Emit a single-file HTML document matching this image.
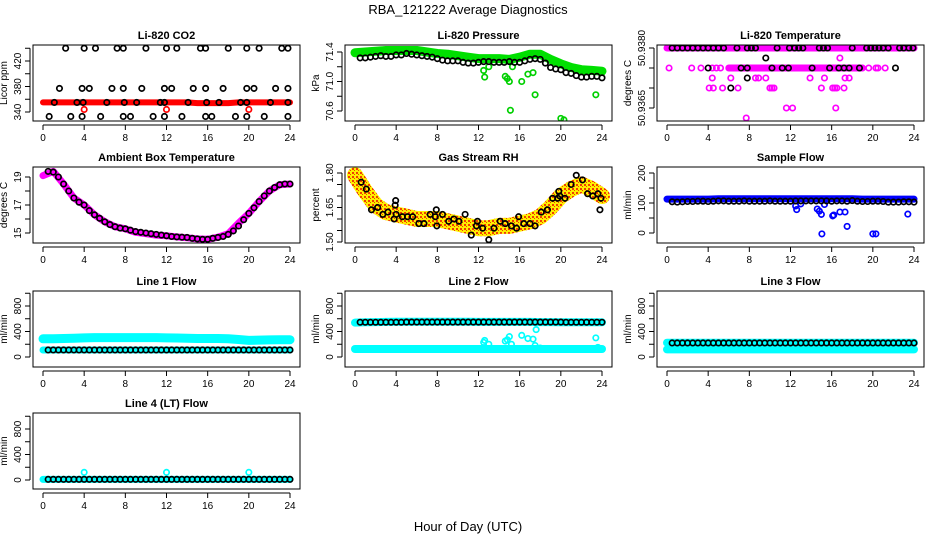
<!DOCTYPE html>
<html><head><meta charset="utf-8"><title>RBA_121222 Average Diagnostics</title>
<style>
html,body{margin:0;padding:0;background:#fff;}
svg{display:block;font-family:"Liberation Sans",sans-serif;}
</style></head>
<body>
<svg id="chart" width="936" height="540" viewBox="0 0 936 540" xmlns="http://www.w3.org/2000/svg">
<defs>
<pattern id="chk" width="4" height="4" patternUnits="userSpaceOnUse">
<rect width="4" height="4" fill="#ffee00"/><rect width="2" height="2" fill="#f04000"/><rect x="2" y="2" width="1" height="1" fill="#f04000"/>
</pattern>
</defs>
<text x="468" y="14" text-anchor="middle" font-size="13">RBA_121222  Average Diagnostics</text>
<text x="468" y="531" text-anchor="middle" font-size="13">Hour of Day (UTC)</text>
<g id="plots"></g>
</svg>
<script>
// ---------- data ----------
const hourTicks = [0,4,8,12,16,20,24];
const hourly = [0,1,2,3,4,5,6,7,8,9,10,11,12,13,14,15,16,17,18,19,20,21,22,23,24];
const halfHours = [0.5,1,1.5,2,2.5,3,3.5,4,4.5,5,5.5,6,6.5,7,7.5,8,8.5,9,9.5,10,10.5,11,11.5,12,12.5,13,13.5,14,14.5,15,15.5,16,16.5,17,17.5,18,18.5,19,19.5,20,20.5,21,21.5,22,22.5,23,23.5,24];

// CO2
const co2BlackX = [2.2,4,5.1,7.2,7.8,10,12,13,15.3,15.8,18,19.8,21,23.2,23.8, 1.6,3.8,4.5,6.7,7.8,9.6,11.8,12.5,14.6,15.8,17.5,19.8,20.5,22.6,23.8, 1.1,3.3,3.9,6.2,7.9,9.1,11.4,11.8,14.1,15.9,17.1,19.2,19.8,22.1,23.8, 0.6,2.7,3.8,5.6,7.8,8.5,10.7,11.8,13.5,15.8,16.4,18.7,19.8,21.5,23.8];
const co2BlackY = [440,440,440,440,440,440,440,440,440,440,440,440,440,440,440, 377,377,377,377,377,377,377,377,377,377,377,377,377,377,377, 355,355,355,355,355,355,355,355,355,355,355,355,355,355,355, 333,333,333,333,333,333,333,333,333,333,333,333,333,333,333];
const co2Red = [355,355,355,355,355,355,355,355,355,355,355,355,355,355,355,354,354,354,354,355,355,355,355,355,355];
const co2RedOutX = [4,12,20];
const co2RedOutY = [344,344,344];

// Pressure
const presGreen = [71.39,71.40,71.41,71.42,71.42,71.42,71.42,71.40,71.38,71.37,71.35,71.33,71.31,71.31,71.31,71.30,71.33,71.37,71.37,71.30,71.24,71.19,71.16,71.15,71.14];
const presBlack = [71.32,71.32,71.33,71.34,71.35,71.34,71.34,71.36,71.36,71.38,71.37,71.36,71.35,71.34,71.33,71.31,71.29,71.28,71.28,71.28,71.26,71.25,71.25,71.26,71.27,71.27,71.26,71.26,71.26,71.27,71.26,71.26,71.28,71.30,71.31,71.30,71.25,71.19,71.17,71.16,71.12,71.11,71.08,71.06,71.06,71.07,71.07,71.05];
const presOutX = [12.5,12.6,13,14.6,14.8,15,15.1,15.3,16.2,16.8,17.3,17.5,20,20.3,23.4];
const presOutY = [71.15,71.06,71.2,71.07,71.04,71.0,70.61,71.2,71.0,71.1,71.12,70.82,70.5,70.48,70.82];

// Li-820 Temperature
const tempBandStart = [0,6];
const tempBandEnd = [24,19];
const tempBandVal = [50.9380,50.9375];
const tempMagX = [0.2,2.4,3.3,4.4,4.8,5.2,19.6,20.3,20.5,21.2, 4.4,6.2,8.6,8.9,9.6,13.9,15.3,17.3,17.7, 4.1,4.5,5.4,6.9,10,10.2,10.4,15,16.1,16.3,16.5,17.2, 11.6,12.2,16.4, 7.7, 16.8];
const tempMagY = [50.9375,50.9375,50.9375,50.9375,50.9375,50.9375,50.9375,50.9375,50.9375,50.9375, 50.93725,50.93725,50.93725,50.93725,50.93725,50.93725,50.93725,50.93725,50.93725, 50.9370,50.9370,50.9370,50.9370,50.9370,50.9370,50.9370,50.9370,50.9370,50.9370,50.9370,50.9370, 50.9365,50.9365,50.9365, 50.93625, 50.93775];
const tempBlackX = [0.5,1,1.5,2,2.5,3,3.5,4,4.5,5,5.5,6.8,7.8,8.2,8.6,10.7,11.9,12.4,12.8,13.2,14.8,15.2,15.6,18,19.4,19.8,20.2,20.6,21,21.5,22.6,23,23.5,23.9, 4,7.2,7.8,10.2,11.2,11.8,14.1,15.8,16.7,17.2,17.7,18.7,22.2, 9.6, 7.8, 6.2];
const tempBlackY = [50.9380,50.9380,50.9380,50.9380,50.9380,50.9380,50.9380,50.9380,50.9380,50.9380,50.9380,50.9380,50.9380,50.9380,50.9380,50.9380,50.9380,50.9380,50.9380,50.9380,50.9380,50.9380,50.9380,50.9380,50.9380,50.9380,50.9380,50.9380,50.9380,50.9380,50.9380,50.9380,50.9380,50.9380, 50.9375,50.9375,50.9375,50.9375,50.9375,50.9375,50.9375,50.9375,50.9375,50.9375,50.9375,50.9375,50.9375, 50.93775, 50.93725, 50.9370];

// Ambient box temperature
const ambMag = [19.1,19.4,18.5,17.5,17.0,16.3,15.8,15.45,15.3,15.05,14.95,14.85,14.8,14.72,14.66,14.58,14.55,14.7,14.95,15.7,16.4,17.25,18.0,18.45,18.5];
const ambBlack = [19.4,19.35,19.0,18.5,18.0,17.5,17.2,17.0,16.6,16.3,16.05,15.8,15.6,15.45,15.35,15.3,15.2,15.1,15.05,15.0,14.95,14.9,14.85,14.8,14.75,14.72,14.7,14.68,14.62,14.58,14.55,14.55,14.62,14.68,14.75,14.9,15.15,15.5,15.95,16.4,16.8,17.25,17.65,18.0,18.25,18.45,18.5,18.5];

// Gas stream RH
const rhBand = [1.79,1.72,1.66,1.63,1.62,1.61,1.60,1.60,1.60,1.59,1.58,1.57,1.56,1.56,1.57,1.57,1.58,1.59,1.61,1.65,1.70,1.73,1.75,1.73,1.70];
const rhBlackX = [0.6,1.1,1.6,2.2,2.7,3.2,3.8,3.9,3.95,4.0,4.6,5.1,5.6,6.2,6.7,7.3,7.8,7.9,7.95,8.5,9.1,9.6,10.1,10.7,11.3,11.8,11.9,12.4,13.0,13.5,14.1,14.6,15.2,15.7,15.9,16.4,17.0,17.5,18.1,18.7,19.2,19.7,19.8,19.9,20.4,21,21.5,22.1,22.6,23.1,23.6,23.8,23.9];
const rhBlackY = [1.76,1.73,1.64,1.65,1.62,1.63,1.60,1.66,1.68,1.62,1.61,1.61,1.61,1.58,1.58,1.62,1.61,1.64,1.57,1.62,1.59,1.60,1.59,1.62,1.53,1.57,1.59,1.56,1.51,1.56,1.59,1.58,1.57,1.56,1.61,1.58,1.58,1.57,1.63,1.64,1.69,1.69,1.72,1.70,1.69,1.75,1.79,1.77,1.71,1.70,1.71,1.64,1.69];

// Sample flow
const sampBlue = [113,113,113,113,113,114,114,114,114,114,114,114,114,114,114,114,114,114,114,113,113,113,113,113,113];
const sampBlack = [104,103,104,105,105,106,106,105,106,107,107,106,106,106,107,106,106,106,106,107,106,106,106,106,107,107,107,107,107,107,107,106,107,107,106,108,106,105,105,106,106,105,103,103,103,104,104,103];
const sampOutX = [12.5,12.6,13,14.6,14.8,15,15.05,15.3,16.1,16.2,16.8,17.3,17.5,20,20.3,23.4];
const sampOutY = [90,78,97,80,73,62,-3,95,57,60,70,70,22,-3,-3,63];

// Line flows
const l1Cyan = [285,285,290,295,300,305,305,305,305,305,305,305,300,298,295,290,290,290,285,275,260,265,268,270,272];
const l1CyanLow = [110,110,110,110,110,110,110,110,110,110,110,110,110,110,110,110,110,110,110,110,110,110,110,110,110];
const l1Black = [110,110,110,110,110,110,110,110,110,110,110,110,110,110,110,110,110,110,110,110,110,110,110,110,110,110,110,110,110,110,110,110,110,110,110,110,110,110,110,110,110,110,110,110,110,110,110,110];
const l2CyanHigh = [540,545,548,550,552,552,552,552,552,552,552,552,550,550,550,550,550,550,548,548,545,545,545,545,545];
const l2CyanLow = [125,125,125,125,125,125,125,125,125,125,125,125,125,125,125,125,125,125,125,125,125,125,125,125,125];
const l2Black = [545,545,545,545,545,545,545,545,545,548,548,548,548,548,548,548,548,548,548,548,548,548,548,548,548,548,548,548,548,548,548,548,548,548,548,548,548,548,548,548,545,545,545,545,545,545,545,545];
const l2OutX = [12.5,12.6,13,14.6,14.8,15,15.2,15.3,16.2,16.8,17.3,17.5,17.6,18,20.3,23.4,23.6];
const l2OutY = [230,260,200,250,270,320,200,130,340,290,280,180,430,140,130,300,150];
const l3CyanHigh = [225,225,225,225,225,225,225,225,225,225,225,225,225,225,225,225,225,225,225,225,225,225,225,225,225];
const l3CyanLow = [120,120,120,120,120,120,120,120,120,120,120,120,120,120,120,120,120,120,120,120,120,120,120,120,120];
const l3Black = [220,220,220,220,220,220,220,220,220,220,220,220,220,220,220,220,220,220,220,220,220,220,220,220,220,220,220,220,220,220,220,220,220,220,220,220,220,220,220,220,220,220,220,220,220,220,220,220];
const l4Cyan = [10,10,10,10,10,10,10,10,10,10,10,10,10,10,10,10,10,10,10,10,10,10,10,10,10];
const l4Black = [10,10,10,10,10,10,10,10,10,10,10,10,10,10,10,10,10,10,10,10,10,10,10,10,10,10,10,10,10,10,10,10,10,10,10,10,10,10,10,10,10,10,10,10,10,10,10,10];
const l4OutX = [4,12,20];
const l4OutY = [120,120,120];

// y-axis ticks / labels per panel
const co2Ticks=[340,360,380,400,420,440], co2Labels=["340","","380","","420",""];
const presTicks=[70.6,70.8,71.0,71.2,71.4], presLabels=["70.6","","71.0","","71.4"];
const tempTicks=[50.9365,50.9370,50.9375,50.9380], tempLabels=["50.9365","","","50.9380"];
const ambTicks=[15,16,17,18,19], ambLabels=["15","","17","","19"];
const rhTicks=[1.50,1.55,1.60,1.65,1.70,1.75,1.80], rhLabels=["1.50","","","1.65","","","1.80"];
const sampTicks=[0,50,100,150,200], sampLabels=["0","","100","","200"];
const flowTicks=[0,200,400,600,800,1000], flowLabels=["0","","400","","800",""];

// ---------- drawing ----------
const NS="http://www.w3.org/2000/svg";
const root=document.getElementById('plots');
const colT0=[43,355,667];
const rowTop=[45,167,291,413];
const BOXH=76;
function mk(tag,attrs,parent){const e=document.createElementNS(NS,tag);for(const k in attrs)e.setAttribute(k,attrs[k]);(parent||root).appendChild(e);return e;}

function makePanel(name,col,row,title,ylab,v0,p0,v1,p1,ticks,labels){
  const g=mk('g',{});
  
  
  const t0=colT0[col], top=rowTop[row], bot=top+BOXH;
  const X=t=>t0+t*(247/24);
  const Y=v=>p0+(v-v0)*(p1-p0)/(v1-v0);
  const left=t0-10, right=t0+257;
  const data=mk('g',{},g);
  
  
  const clip='clip-'+name;
  const cp=mk('clipPath',{id:clip},g);
  mk('rect',{x:left,y:top,width:right-left,height:BOXH},cp);
  data.setAttribute('clip-path','url(#'+clip+')');
  const box=mk('rect',{x:left,y:top,width:right-left,height:BOXH,fill:'none',stroke:'#000','stroke-width':1},g);
  
  
  const tt=mk('text',{x:(left+right)/2,y:top-6,'text-anchor':'middle','font-size':11,'font-weight':'bold'},g);
  tt.textContent=title;
  
  
  const xa=mk('g',{},g);
  
  
  mk('line',{x1:X(0),x2:X(24),y1:bot+4,y2:bot+4,stroke:'#000'},xa);
  hourTicks.forEach(h=>{
    mk('line',{x1:X(h),x2:X(h),y1:bot+4,y2:bot+9,stroke:'#000'},xa);
    const l=mk('text',{x:X(h),y:bot+20,'text-anchor':'middle','font-size':10},xa);
    l.textContent=String(h);
    
    
  });
  const ya=mk('g',{},g);
  
  
  const ax=left-3;
  mk('line',{x1:ax,x2:ax,y1:Y(ticks[0]),y2:Y(ticks[ticks.length-1]),stroke:'#000'},ya);
  ticks.forEach((v,i)=>{
    const y=Y(v);
    mk('line',{x1:ax-5,x2:ax,y1:y,y2:y,stroke:'#000'},ya);
    if(labels[i]){
      const l=mk('text',{x:0,y:0,'text-anchor':'middle','font-size':10,transform:`translate(${ax-9},${y}) rotate(-90)`},ya);
      l.textContent=labels[i];
      
      
    }
  });
  const yl=mk('text',{x:0,y:0,'text-anchor':'middle','font-size':10,transform:`translate(${ax-23},${top+BOXH/2}) rotate(-90)`},g);
  yl.textContent=ylab;
  
  
  return {X,Y,data};
}
function band(p,xs,vs,color,w,nm){
  const d=xs.map((t,i)=>(i?'L':'M')+p.X(t).toFixed(1)+' '+p.Y(vs[i]).toFixed(1)).join(' ');
  const e=mk('path',{d,fill:'none',stroke:color,'stroke-width':w,'stroke-linecap':'round','stroke-linejoin':'round'},p.data);
  
  
}
function pts(p,xs,vs,color,nm,r){
  xs.forEach((t,i)=>{
    const c=mk('circle',{cx:p.X(t),cy:p.Y(vs[i]),r:r||2.7,fill:'none',stroke:color,'stroke-width':1.7},p.data);
    
    
  });
}

let p=makePanel('co2-panel',0,0,'Li-820 CO2','Licor ppm',340,112,420,61,co2Ticks,co2Labels);
band(p,hourly,co2Red,'#ff0000',6,'co2-red-band');
pts(p,co2RedOutX,co2RedOutY,'#ff0000','co2-red-point');
pts(p,co2BlackX,co2BlackY,'#000','co2-black-point');

p=makePanel('pressure-panel',1,0,'Li-820 Pressure','kPa',71.4,52,70.6,111,presTicks,presLabels);
band(p,hourly,presGreen,'#00e000',9,'pressure-green-band');
pts(p,presOutX,presOutY,'#00d000','pressure-green-point');
pts(p,halfHours,presBlack,'#000','pressure-black-point');

p=makePanel('temperature-panel',2,0,'Li-820 Temperature','degrees C',50.9380,48,50.9365,108,tempTicks,tempLabels);
tempBandStart.forEach((s,i)=>band(p,[s,tempBandEnd[i]],[tempBandVal[i],tempBandVal[i]],'#ff00ff',7,'temperature-magenta-band'));
pts(p,tempMagX,tempMagY,'#ff00ff','temperature-magenta-point');
pts(p,tempBlackX,tempBlackY,'#000','temperature-black-point');

p=makePanel('ambient-temp-panel',0,1,'Ambient Box Temperature','degrees C',19,177,15,233,ambTicks,ambLabels);
band(p,hourly,ambMag,'#ff00ff',7,'ambient-magenta-band');
pts(p,halfHours,ambBlack,'#000','ambient-black-point');

p=makePanel('rh-panel',1,1,'Gas Stream RH','percent',1.80,173,1.50,242,rhTicks,rhLabels);
band(p,hourly,rhBand,'url(#chk)',16,'rh-band');
pts(p,rhBlackX,rhBlackY,'#000','rh-black-point');

p=makePanel('sample-flow-panel',2,1,'Sample Flow','ml/min',200,173,0,233,sampTicks,sampLabels);
band(p,hourly,sampBlue,'#0000ff',7,'sample-blue-band');
pts(p,sampOutX,sampOutY,'#0000ff','sample-blue-point');
pts(p,halfHours,sampBlack,'#000','sample-black-point');

p=makePanel('line1-flow-panel',0,2,'Line 1 Flow','ml/min',0,357,800,306,flowTicks,flowLabels);
band(p,hourly,l1Cyan,'#00ffff',9,'line1-cyan-band');
band(p,hourly,l1CyanLow,'#00ffff',7,'line1-cyan-low-band');
pts(p,halfHours,l1Black,'#000','line1-black-point');

p=makePanel('line2-flow-panel',1,2,'Line 2 Flow','ml/min',0,357,800,306,flowTicks,flowLabels);
band(p,hourly,l2CyanHigh,'#00ffff',8,'line2-cyan-high-band');
band(p,hourly,l2CyanLow,'#00ffff',8,'line2-cyan-low-band');
pts(p,l2OutX,l2OutY,'#00ffff','line2-cyan-point');
pts(p,halfHours,l2Black,'#000','line2-black-point');

p=makePanel('line3-flow-panel',2,2,'Line 3 Flow','ml/min',0,357,800,306,flowTicks,flowLabels);
band(p,hourly,l3CyanHigh,'#00ffff',8,'line3-cyan-high-band');
band(p,hourly,l3CyanLow,'#00ffff',8,'line3-cyan-low-band');
pts(p,halfHours,l3Black,'#000','line3-black-point');

p=makePanel('line4-flow-panel',0,3,'Line 4 (LT) Flow','ml/min',0,480,800,429,flowTicks,flowLabels);
band(p,hourly,l4Cyan,'#00ffff',7,'line4-cyan-band');
pts(p,l4OutX,l4OutY,'#00ffff','line4-cyan-point');
pts(p,halfHours,l4Black,'#000','line4-black-point');
</script>
</body></html>
